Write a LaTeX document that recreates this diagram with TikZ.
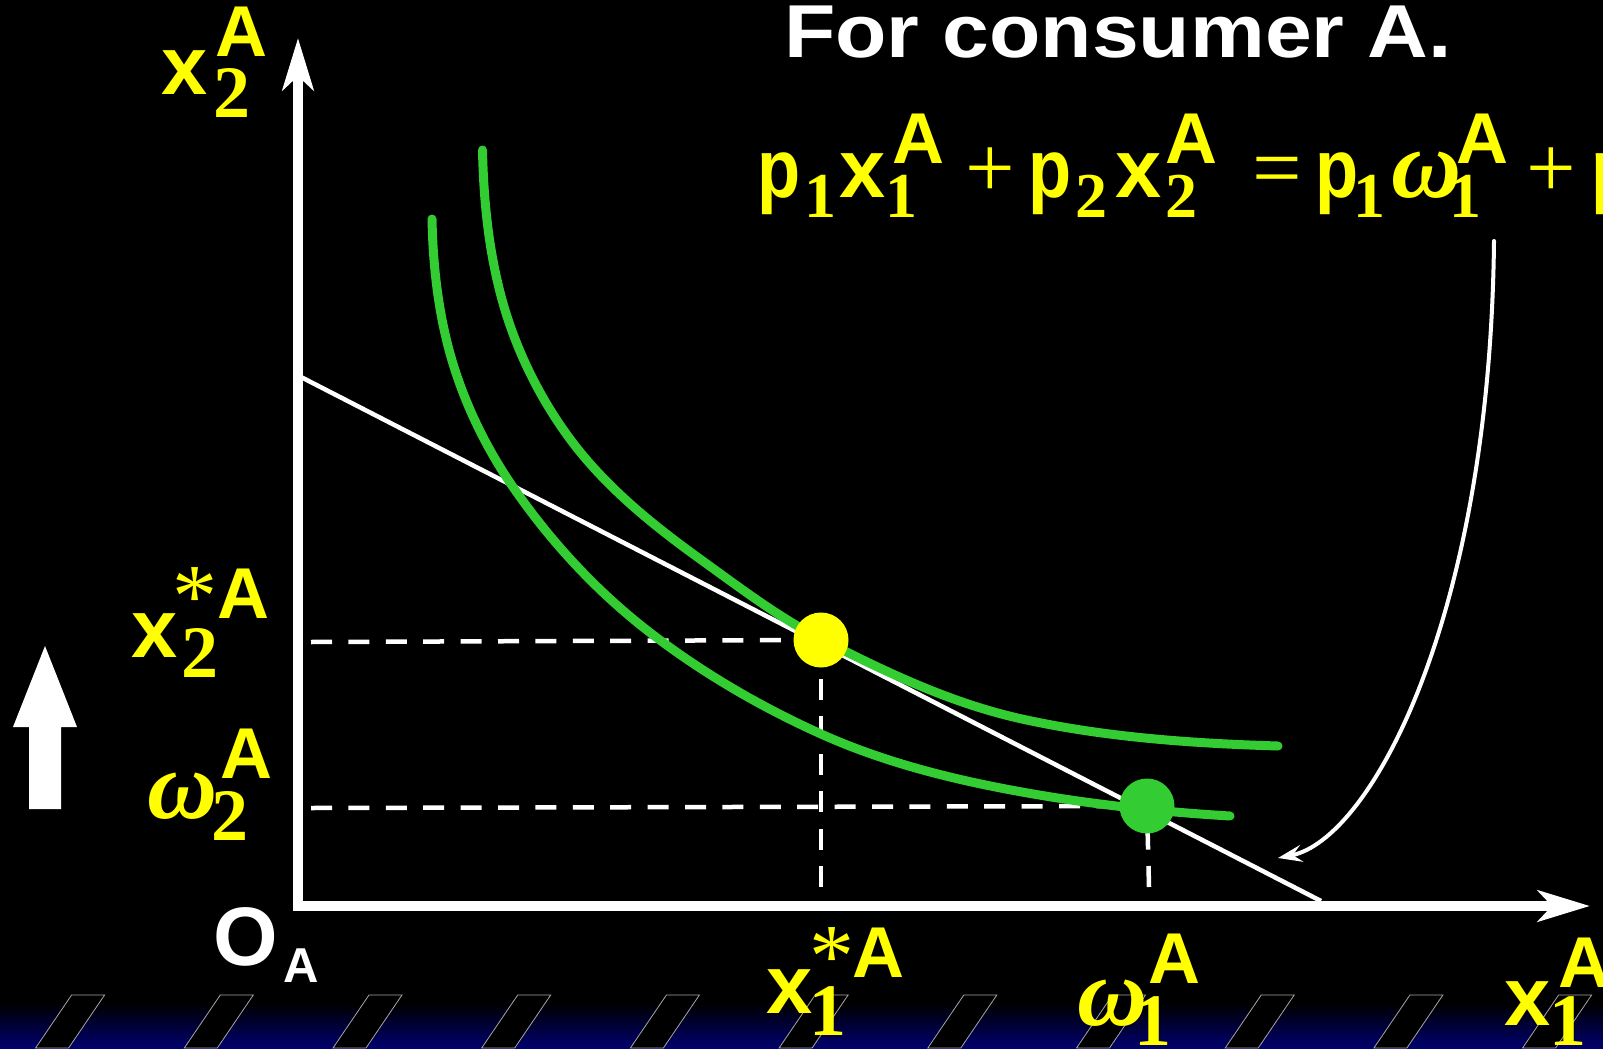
\documentclass[tikz,border=0pt]{standalone}
\usepackage{fontspec}
\usepackage{graphicx}
\setmainfont{Liberation Sans}
\newfontfamily\tnr{Liberation Serif}
\usetikzlibrary{arrows.meta}
\definecolor{ygreen}{RGB}{51,204,51}
\definecolor{navyb}{RGB}{0,0,110}
\definecolor{yel}{RGB}{255,255,0}
\newcommand\mainf{\fontsize{83}{83}\selectfont\bfseries}
\newcommand\supf{\fontsize{72}{72}\selectfont\bfseries}
\newcommand\subf[1]{\fontsize{#1}{#1}\selectfont\tnr\bfseries\upshape}
\newcommand\starf{\fontsize{90}{90}\selectfont\tnr\mdseries\upshape}
\newcommand\omf{\fontsize{97}{97}\selectfont\tnr\bfseries\itshape}
\newcommand\opf{\fontsize{88}{88}\selectfont\tnr\mdseries\upshape}
\newcommand\np{\scalebox{0.85}[1]{\mainf p}}
\newcommand\at[3]{\rlap{\kern#1pt\raisebox{#2pt}{#3}}}
\tikzset{
  lbl/.style={anchor=base west, inner sep=0pt, outer sep=0pt},
  axis/.style={white, line width=10pt, line join=miter,
    {Stealth[length=52pt,width=31pt,inset=14pt]}-{Stealth[length=52pt,width=31pt,inset=14pt]}},
  dsh/.style={white, line width=4.5pt, dash pattern=on 21pt off 16.4pt},
  budget/.style={white, line width=4.5pt},
  icurve/.style={ygreen, line width=9pt, line cap=round},
  dotn/.style={circle, inner sep=0pt, minimum size=55pt},
  stripe/.style={fill=black, draw=gray!70, line width=0.8pt},
}
\begin{document}
\begin{tikzpicture}[x=1pt,y=-1pt]
% background
\fill[black] (0,0) rectangle (1603,1048);
\shade[top color=black, bottom color=navyb] (0,1003) rectangle (1603,1048);
\foreach \i in {0,...,10}{
  \pgfmathsetmacro\s{71.6+148.7*\i}
  \filldraw[stripe] (\s,995) -- (\s+33,995) -- (\s-3,1048) -- (\s-36,1048) -- cycle;
}
% coordinates
\coordinate (O) at (298,906);
\coordinate (ytip) at (298,38);
\coordinate (xtip) at (1590,906);
\coordinate (bl1) at (299,376);
\coordinate (bl2) at (1321,901);
\coordinate (h1s) at (311,642);
\coordinate (h2s) at (311,808);
\coordinate (v1b) at (821,887);
\coordinate (v2b) at (1149,887);
\coordinate (ca1) at (1494,241);
\coordinate (ca2) at (1278,858);
% axes
\draw[axis] (ytip) -- (O) -- (xtip);
% dots (placed first as nodes, drawn later on top)
\node[dotn] (E) at (821,640) {};
\node[dotn] (W) at (1147,806) {};
% dashed guides
\draw[dsh] (h1s) -- (E.center);
\draw[dsh] (h2s) -- (W.center);
\draw[dsh] (v1b) -- (E.center);
\draw[dsh] (v2b) -- (W.center);
% budget line
\draw[budget] (bl1) -- (bl2);
% indifference curves
\draw[icurve] (482.5,150) .. controls (483.6,203.9) and (489.4,258.4) .. (505,310)
  .. controls (519,356) and (541.4,400.3) .. (570,439)
  .. controls (605.1,486.4) and (652.1,524.5) .. (700,559)
  .. controls (739.3,587.3) and (777.9,616.9) .. (821,639)
  .. controls (885.2,671.9) and (951.6,703.5) .. (1022,719)
  .. controls (1105.8,737.4) and (1192.2,743.4) .. (1278,746);
\draw[icurve] (432,219) .. controls (432.9,264.2) and (437.9,309.9) .. (450,353.5)
  .. controls (463.2,400.9) and (485.1,446.5) .. (513,487)
  .. controls (550.1,540.8) and (595.2,589.8) .. (646.7,630)
  .. controls (700.1,671.6) and (759.3,706.2) .. (821,734)
  .. controls (884.6,762.6) and (953.4,779.7) .. (1022,792)
  .. controls (1090.7,804.4) and (1160.3,811.8) .. (1230,816);
% dots on top
\fill[yel] (E) circle (27.5pt);
\fill[ygreen] (W) circle (27.5pt);
% labels
\node[lbl, text=yel] (lx2) at (161,95) {\at{0}{0}{\mainf x}\at{54}{38}{\supf A}\at{52}{-23}{\subf{74}2}};
\node[lbl, text=yel] (lx2s) at (131,657) {\at{0}{0}{\mainf x}\at{41}{31}{\starf *}\at{86}{39}{\supf A}\at{50}{-20}{\subf{74}2}};
\node[lbl, text=yel] (lw2) at (147,818) {\at{0}{0}{\omf ω}\at{73}{40}{\supf A}\at{64}{-22}{\subf{74}2}};
\node[lbl, text=white] (lO) at (213,965) {\at{0}{0}{\mainf O}\at{70}{-17}{\fontsize{49}{49}\selectfont\bfseries A}};
\node[lbl, text=yel] (lx1s) at (766,1013) {\at{0}{0}{\mainf x}\at{43}{27}{\starf *}\at{86}{36}{\supf A}\at{43}{-22}{\subf{74}1}};
\node[lbl, text=yel] (lw1) at (1077,1025) {\at{0}{0}{\omf ω}\at{71}{42}{\supf A}\at{57}{-20}{\subf{74}1}};
\node[lbl, text=yel] (lx1) at (1504,1025) {\at{0}{0}{\mainf x}\at{54}{38}{\supf A}\at{45}{-20}{\subf{74}1}};
% title
\node[lbl, text=white] (title) at (784,58) {\resizebox{668pt}{\height}{\fontsize{75}{75}\selectfont\bfseries For consumer A.}};
% budget equation
\node[lbl, text=yel] (eq) at (757,198) {\at{0}{0}{\np}\at{47}{-20}{\subf{64}1}\at{82}{0}{\mainf x}\at{135}{35}{\supf A}\at{128}{-20}{\subf{64}1}\at{208}{0}{\opf +}\at{271}{0}{\np}\at{318}{-20}{\subf{64}2}\at{358}{0}{\mainf x}\at{408}{35}{\supf A}\at{408}{-20}{\subf{64}2}\at{495}{0}{\opf =}\at{558}{0}{\np}\at{596}{-20}{\subf{64}1}\at{634}{0}{\omf ω}\at{699}{35}{\supf A}\at{692}{-20}{\subf{64}1}\at{769}{0}{\opf +}\at{834}{0}{\np}};
% block arrow
\fill[white] (45,646) -- (77,727) -- (61,727) -- (61,809) -- (29,809) -- (29,727) -- (13,727) -- cycle;
% curved arrow pointing at the budget line
\draw[white, line width=4pt, line cap=round, -{Stealth[length=24pt,width=17pt,inset=9pt]}] (ca1) .. controls (1490,620) and (1370,840) .. (ca2);
\end{tikzpicture}
\end{document}
